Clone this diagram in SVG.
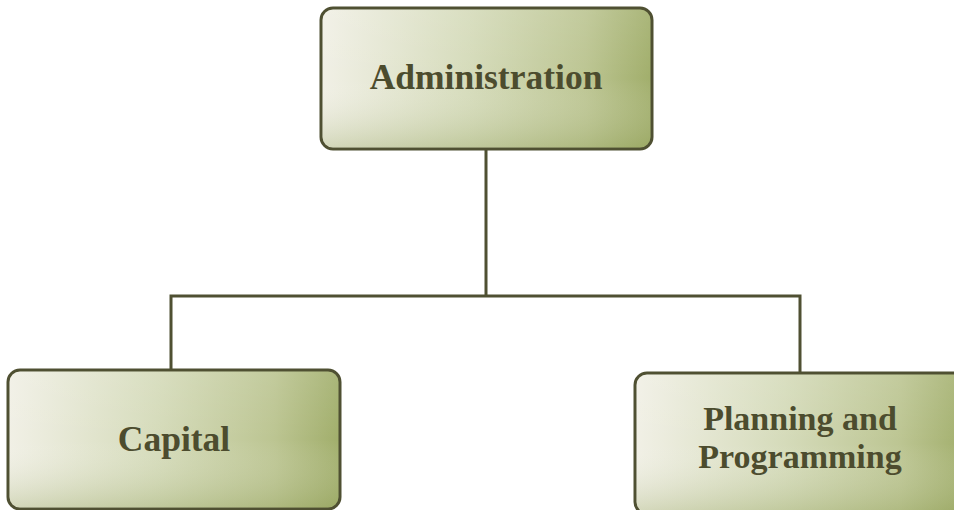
<svg xmlns="http://www.w3.org/2000/svg" width="954" height="510" viewBox="0 0 954 510">
<defs>
<linearGradient id="g" x1="0" y1="0" x2="1" y2="0">
<stop offset="0" stop-color="#f1f0e6"/>
<stop offset="0.45" stop-color="#d5dbba"/>
<stop offset="0.8" stop-color="#bcc592"/>
<stop offset="1" stop-color="#a1ae6b"/>
</linearGradient>
<linearGradient id="shade" x1="0" y1="0" x2="0" y2="1">
<stop offset="0" stop-color="#ffffff" stop-opacity="0.1"/>
<stop offset="0.5" stop-color="#ffffff" stop-opacity="0"/>
<stop offset="1" stop-color="#8e9d55" stop-opacity="0.3"/>
</linearGradient>
</defs>
<style>
.box{fill:url(#g);stroke:#4f5032;stroke-width:3}
.ov{fill:url(#shade);stroke:none}
.lbl{font-family:"Liberation Serif",serif;font-weight:bold;font-size:35.5px;fill:#4c4c2e;text-anchor:middle}
.sm{font-size:34px}
.conn{stroke:#4f5032;stroke-width:3;fill:none}
</style>
<g id="connectors">
<path class="conn" d="M486 149 V296 M171 369 V296 H800 V372"/>
</g>
<g id="administration">
<rect class="box" x="321" y="8" width="331" height="141" rx="12"/>
<rect class="ov" x="322.5" y="9.5" width="328" height="138" rx="11"/>
<text class="lbl" x="486" y="89">Administration</text>
</g>
<g id="capital">
<rect class="box" x="8" y="370" width="332" height="139" rx="12"/>
<rect class="ov" x="9.5" y="371.5" width="329" height="136" rx="11"/>
<text class="lbl" x="174" y="451">Capital</text>
</g>
<g id="planning">
<rect class="box" x="635" y="373" width="332" height="141" rx="12"/>
<rect class="ov" x="636.5" y="374.5" width="329" height="138" rx="11"/>
<text class="lbl sm" x="800" y="430">Planning and</text>
<text class="lbl sm" x="800" y="468">Programming</text>
</g>
</svg>
